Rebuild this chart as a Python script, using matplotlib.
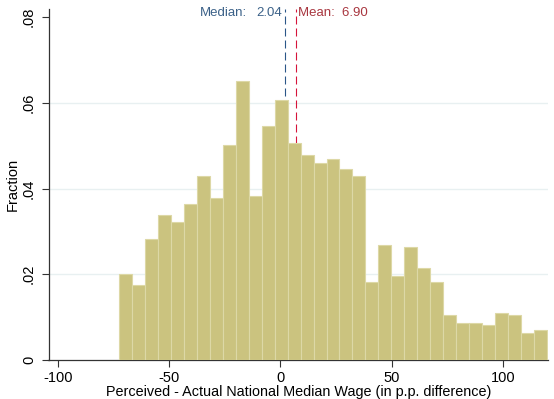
import numpy as np
import matplotlib
matplotlib.use("Agg")
import matplotlib.pyplot as plt

plt.rcParams['font.family'] = ['Liberation Sans', 'DejaVu Sans']

# Histogram of perceived minus actual national median wage (p.p. difference)
bin_start = -72.5
bin_width = 5.825
fractions = [
    0.0200, 0.0174, 0.0282, 0.0338, 0.0323, 0.0363, 0.0429, 0.0377,
    0.0501, 0.0651, 0.0382, 0.0546, 0.0606, 0.0506, 0.0478, 0.0459,
    0.0468, 0.0446, 0.0429, 0.0181, 0.0268, 0.0195, 0.0263, 0.0214,
    0.0181, 0.0104, 0.0087, 0.0087, 0.0082, 0.0109, 0.0104, 0.0064,
    0.0069,
]
median_val = 2.04
mean_val = 6.90

x_ticks = [-100, -50, 0, 50, 100]
x_tick_labels = ["-100", "-50", "0", "50", "100"]
y_ticks = [0, 0.02, 0.04, 0.06, 0.08]
y_tick_labels = ["0", ".02", ".04", ".06", ".08"]

bar_color = "#cbc37f"
bar_edge = "#ddd8a6"
median_color = "#2a5688"
mean_color = "#d6133a"
median_text_color = "#3b6188"
mean_text_color = "#a8363f"

fig = plt.figure(figsize=(5.54, 3.99), dpi=100)
ax = fig.add_axes([48.5 / 554, 39 / 399, (548 - 48.5) / 554, (360 - 9) / 399])

left_edges = bin_start + bin_width * np.arange(len(fractions))
ax.bar(left_edges, fractions, width=bin_width, align='edge',
       color=bar_color, edgecolor=bar_edge, linewidth=0.8, zorder=3)

# Reference lines for median and mean, drawn behind the bars
ax.axvline(median_val, color=median_color, lw=0.8, ls=(0, (7.2, 3.6)), zorder=2)
ax.axvline(mean_val, color=mean_color, lw=0.8, ls=(0, (7.2, 3.6)), zorder=2)

ax.set_xlim(-104.2, 120.2)
ax.set_ylim(0, 0.0819)

# Labels for the reference lines
ax.annotate("2.04", xy=(median_val, 1), xycoords=('data', 'axes fraction'),
            xytext=(-2.5, -4), textcoords='offset pixels',
            ha='right', va='center', fontsize=9.5, color=median_text_color)
ax.annotate("Median:", xy=(median_val, 1), xycoords=('data', 'axes fraction'),
            xytext=(-85.5, -4), textcoords='offset pixels',
            ha='left', va='center', fontsize=9.5, color=median_text_color)
ax.annotate("Mean:  6.90", xy=(mean_val, 1), xycoords=('data', 'axes fraction'),
            xytext=(2.5, -4), textcoords='offset pixels',
            ha='left', va='center', fontsize=9.5, color=mean_text_color)

# Light horizontal grid
for yv in y_ticks[1:4]:
    ax.axhline(yv, color="#e8f0f1", lw=1.0, zorder=1)

ax.set_xticks(x_ticks)
ax.set_xticklabels(x_tick_labels, fontsize=10.5)
ax.set_yticks(y_ticks)
ax.set_yticklabels(y_tick_labels, fontsize=10.5, rotation=90, va='center')

ax.tick_params(axis='both', direction='out', length=5, width=0.8, color='#333333')
ax.tick_params(axis='x', pad=3)
ax.tick_params(axis='y', pad=4)

for side in ['top', 'right']:
    ax.spines[side].set_visible(False)
for side in ['left', 'bottom']:
    ax.spines[side].set_color('#333333')
    ax.spines[side].set_linewidth(0.9)

ax.set_xlabel("Perceived - Actual National Median Wage (in p.p. difference)",
              fontsize=10.4)
ax.xaxis.set_label_coords(0.5, -0.071)
ax.set_ylabel("Fraction", fontsize=10.5)
ax.yaxis.set_label_coords(-0.058, 0.5)

fig.savefig("out.png", dpi=100, facecolor='white')
